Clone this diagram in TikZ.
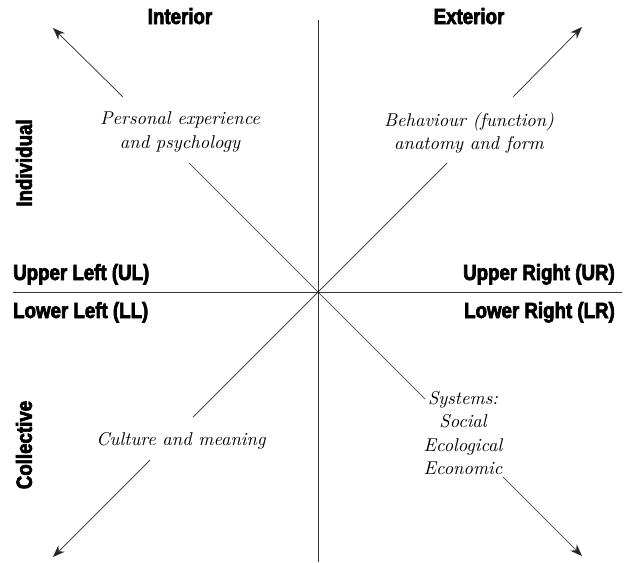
\documentclass[tikz,border=0pt]{standalone}
\usepackage{fontspec}
\newfontfamily\headfont[FakeStretch=0.85,FakeBold=3]{Liberation Sans}
\newfontfamily\quadfont{lmroman10-italic.otf}
\usetikzlibrary{arrows.meta}
\begin{document}
\begin{tikzpicture}[x=1pt,y=-1pt,
  head/.style={font=\headfont\bfseries\fontsize{22}{24}\selectfont,inner sep=0pt},
  quad/.style={font=\quadfont\fontsize{18.5}{23.5}\selectfont,align=center},
  axis/.style={draw=black!80,line width=0.9pt},
  diag/.style={draw=black!85,line width=0.7pt},
  arr/.style={diag,-{Stealth[length=12pt,width=9pt]}}]
\useasboundingbox (0,0) rectangle (628,562);
% axes
\coordinate (o) at (318,292);
\coordinate (vtop) at (318,20);
\coordinate (vbot) at (318,562);
\coordinate (hl) at (13,292);
\coordinate (hr) at (622,292);
\draw[axis] (vtop) -- (vbot);
\draw[axis] (hl) -- (hr);
% headings
\node[head,anchor=base] (int) at (180,24) {Interior};
\node[head,anchor=base] (ext) at (469,24) {Exterior};
\node[head,rotate=90] (ind) at (24,163) {Individual};
\node[head,rotate=90] (col) at (24,445) {Collective};
\node[head,anchor=base west] (ul) at (13,280) {Upper Left (UL)};
\node[head,anchor=base west] (ll) at (13,318) {Lower Left (LL)};
\node[head,anchor=base east] (ur) at (615,280) {Upper Right (UR)};
\node[head,anchor=base east] (lr) at (615,318) {Lower Right (LR)};
% quadrant texts
\node[quad] (pers) at (180,132) {Personal experience\\and psychology};
\node[quad] (beh) at (469,133) {Behaviour (function)\\anatomy and form};
\node[quad] (cult) at (181,441) {Culture and meaning};
\node[quad] (sys) at (463,433) {Systems:\\Social\\Ecological\\Economic};
% diagonals
\coordinate (ul-in) at (189,163);
\coordinate (ul-out) at (123,97);
\coordinate (ul-tip) at (53,28);
\coordinate (ur-in) at (447,163);
\coordinate (ur-out) at (513,97);
\coordinate (ur-tip) at (582,27);
\coordinate (ll-in) at (193,417);
\coordinate (ll-out) at (150,460);
\coordinate (ll-tip) at (53,557);
\coordinate (lr-in) at (425,399);
\coordinate (lr-out) at (503,477);
\coordinate (lr-tip) at (582,556);
\draw[diag] (o) -- (ul-in);
\draw[arr] (ul-out) -- (ul-tip);
\draw[diag] (o) -- (ur-in);
\draw[arr] (ur-out) -- (ur-tip);
\draw[diag] (o) -- (ll-in);
\draw[arr] (ll-out) -- (ll-tip);
\draw[diag] (o) -- (lr-in);
\draw[arr] (lr-out) -- (lr-tip);
\end{tikzpicture}
\end{document}
